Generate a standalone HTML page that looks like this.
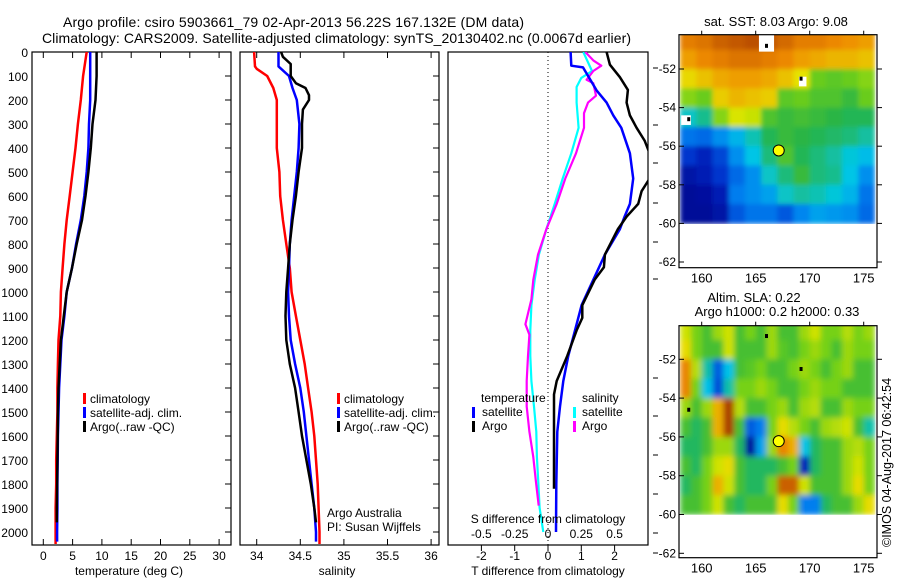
<!DOCTYPE html>
<html><head><meta charset="utf-8"><style>
html,body{margin:0;padding:0;background:#fff;}
svg{display:block;font-family:"Liberation Sans",Arial,sans-serif;}
</style></head><body>
<svg id="fig" width="900" height="580" viewBox="0 0 900 580" xmlns="http://www.w3.org/2000/svg">
<defs>
<clipPath id="c1"><rect x="32" y="52" width="199" height="493"/></clipPath>
<clipPath id="c2"><rect x="240" y="52" width="199" height="493"/></clipPath>
<clipPath id="c3"><rect x="448" y="52" width="200" height="493"/></clipPath>
<clipPath id="cm1"><rect x="679" y="34.7" width="198" height="189.6"/></clipPath>
<clipPath id="cm2"><rect x="679" y="325.7" width="198" height="189"/></clipPath>
<filter id="blur1" x="0" y="0" width="1" height="1"><feGaussianBlur stdDeviation="2.5" edgeMode="duplicate"/></filter>
<filter id="blur2" x="0" y="0" width="1" height="1"><feGaussianBlur stdDeviation="3" edgeMode="duplicate"/></filter>
</defs>
<text x="63" y="27" font-size="14" textLength="461">Argo profile: csiro 5903661_79 02-Apr-2013 56.22S 167.132E (DM data)</text>
<text x="42" y="43" font-size="14" textLength="589">Climatology: CARS2009. Satellite-adjusted climatology: synTS_20130402.nc (0.0067d earlier)</text>
<g id="layer"></g>
</svg>
<script>
// ---------- data ----------
const depthTicks=[0,100,200,300,400,500,600,700,800,900,1000,1100,1200,1300,1400,1500,1600,1700,1800,1900,2000];
const tempTicks=[0,5,10,15,20,25,30];
const salTicks=[34,34.5,35,35.5,36];
const salTickLabels=["34","34.5","35","35.5","36"];
const tdiffTicks=[-2,-1,0,1,2];
const sdiffTicks=[-0.5,-0.25,0,0.25,0.5];
const sdiffTickLabels=["-0.5","-0.25","0","0.25","0.5"];

const tempClimDepth=[0,100,200,300,400,500,600,700,800,900,1000,1100,1200,1300,1400,1500,1600,1700,1800,1900,2000,2050];
const tempClim=[7.4,6.8,6.4,5.9,5.5,5.0,4.5,4.0,3.6,3.3,3.0,2.9,2.6,2.5,2.4,2.4,2.3,2.2,2.2,2.1,2.1,2.1];
const tempSatDepth=[0,100,200,300,400,500,600,700,800,900,1000,1100,1200,1300,1400,1500,1600,1700,1800,1900,2000,2040];
const tempSat=[8.0,8.0,8.0,7.8,7.7,7.4,7.0,6.4,5.6,4.9,4.0,3.6,3.1,2.9,2.7,2.6,2.5,2.45,2.4,2.4,2.35,2.35];
const tempArgoDepth=[0,100,200,300,400,500,600,700,800,900,1000,1100,1200,1300,1400,1500,1600,1700,1800,1900,1960];
const tempArgo=[9.1,9.1,8.9,8.4,8.1,7.7,7.2,6.6,5.7,4.9,4.0,3.5,3.0,2.8,2.6,2.5,2.45,2.4,2.35,2.3,2.3];

const salClimDepth=[0,60,70,100,150,200,300,400,500,600,700,800,900,1000,1100,1200,1300,1400,1500,1600,1700,1800,1900,2000,2050];
const salClim=[33.97,33.98,34.0,34.12,34.19,34.23,34.23,34.23,34.26,34.27,34.3,34.34,34.38,34.40,34.45,34.5,34.55,34.59,34.63,34.66,34.68,34.7,34.71,34.72,34.72];
const salSatDepth=[0,60,100,150,200,300,400,500,600,700,800,900,1000,1100,1200,1300,1400,1500,1600,1700,1800,1900,2000,2040];
const salSat=[34.25,34.25,34.37,34.41,34.46,34.49,34.48,34.46,34.43,34.4,34.38,34.37,34.36,34.37,34.39,34.44,34.5,34.54,34.57,34.6,34.63,34.66,34.68,34.68];
const salArgoDepth=[0,20,50,100,130,150,180,200,240,300,400,500,600,700,800,900,1000,1100,1200,1300,1400,1500,1600,1700,1800,1900,1960];
const salArgo=[34.28,34.3,34.39,34.39,34.45,34.56,34.6,34.6,34.53,34.52,34.52,34.48,34.45,34.41,34.38,34.36,34.34,34.33,34.34,34.38,34.44,34.48,34.52,34.57,34.62,34.66,34.68];

const tdSatDepth=[0,57,64,160,211,264,316,422,527,633,686,738,844,949,1055,1160,1266,1371,1477,1582,1800,2000];
const tdSat=[0.68,0.7,1.05,1.46,1.76,1.96,2.2,2.46,2.56,2.46,2.3,2.16,1.71,1.36,1.01,0.81,0.61,0.46,0.36,0.28,0.25,0.24];
const tdArgoDepth=[0,53,105,158,211,264,316,369,422,527,580,633,686,738,844,897,949,1055,1108,1160,1266,1371,1427,1820];
const tdArgo=[1.76,1.86,2.16,2.4,2.36,2.46,2.66,2.9,3.05,3.05,2.81,2.71,2.36,2.1,1.71,1.68,1.4,1.03,1.03,0.86,0.58,0.26,0.18,0.18];
const sdSatDepth=[0,79,108,146,211,316,422,527,633,738,844,949,1055,1160,1266,1371,1477,1582,1688,1793,1899,2000];
const sdSat=[0.265,0.33,0.25,0.215,0.215,0.23,0.175,0.11,0.05,-0.012,-0.068,-0.1,-0.125,-0.133,-0.133,-0.125,-0.105,-0.088,-0.083,-0.073,-0.063,-0.035];
const sdArgoDepth=[0,35,57,79,116,130,182,211,255,316,422,527,633,738,844,949,1031,1134,1178,1266,1371,1477,1582,1688,1793,1890];
const sdArgo=[0.28,0.34,0.40,0.34,0.29,0.34,0.36,0.30,0.27,0.27,0.21,0.13,0.065,-0.012,-0.075,-0.11,-0.125,-0.17,-0.14,-0.15,-0.16,-0.16,-0.14,-0.11,-0.09,-0.07];

const lonTicks=[160,165,170,175];
const latTicks=[52,54,56,58,60,62];
const sstLons=[158,159.5,161,162.5,164,165.5,167,168.5,170,171.5,173,174.5];
const sstLats=[50,51,52,53,54,55,56,57,58,59];
const sst=[
[9.3,9.4,9.6,9.7,9.8,9.7,9.5,9.3,9.3,9.2,9.1,9.0],
[9.0,9.2,9.3,9.4,9.4,9.3,9.2,9.0,8.9,8.8,8.8,8.7],
[8.5,8.7,8.9,9.0,9.0,8.9,8.7,8.4,7.6,7.5,7.6,7.8],
[7.8,7.6,8.6,8.8,8.7,8.6,7.5,7.6,7.4,7.4,7.2,7.6],
[6.4,6.7,7.8,8.3,8.2,7.4,7.2,7.3,7.2,7.1,7.0,7.0],
[5.3,5.2,5.6,6.0,6.5,7.0,7.2,7.1,7.0,6.9,6.8,6.6],
[4.6,4.3,4.8,5.6,6.2,6.8,7.4,7.0,6.8,6.6,6.3,6.1],
[4.0,4.2,4.6,5.2,5.6,6.4,6.8,7.2,6.8,6.7,6.2,5.6],
[3.8,3.9,4.2,5.4,5.6,5.8,6.4,6.6,6.5,6.3,6.0,5.3],
[3.8,3.8,4.0,5.0,5.3,5.3,5.0,5.5,5.8,5.7,5.6,5.2]];
const slaLons=[158,159,160,161,162,163,164,165,166,167,168,169,170,171,172,173,174,175];
const slaLats=[50,51,52,53,54,55,56,57,58,59];
const sla=[
[0.12,0.05,0,0.08,0.12,0,0.05,0,0.08,0,0,0.08,0.12,0.05,0.05,0.1,0.05,0.08],
[0.15,0.05,0,0,0.12,0,0,0,0.08,0.02,0,0.05,0.08,0.05,0,0.08,0.05,0.05],
[0.25,0.1,-0.1,-0.3,-0.15,0,0.02,0.05,0,0,0.05,0.08,0.05,0,0.05,0.08,0,0],
[0.25,0.05,-0.15,-0.32,-0.1,0.05,0.05,0.08,0.05,0,0,0.05,0.08,0.05,0.05,0,0,0],
[0.08,0,0.08,0.2,0.38,0.1,0,0,0.05,0.08,0,0.08,0.1,0,0,0.08,0.05,0.05],
[0,-0.05,0,0.2,0.4,0,-0.3,-0.25,0.05,0.15,0.1,0.05,0,0.08,0.1,0.12,0,-0.1],
[-0.05,-0.05,0,0.08,0.08,-0.05,-0.45,-0.2,0.08,0.25,0.2,-0.15,-0.05,0,0,0.08,0.1,0.05],
[0,-0.05,0.05,0.12,0.15,0,-0.05,-0.05,-0.05,0,0.05,-0.4,-0.05,0,0,0.08,0.12,0.05],
[-0.05,0,0.05,0.2,0.12,0,-0.05,-0.05,0.05,0.3,0.3,0.12,0,0,0,0.08,0.15,0.05],
[0,0,0.05,0.12,0,-0.05,0,0,0,0.15,0.05,-0.25,-0.25,-0.05,0,0,0.08,0.15]];
const floatLon=167.132;
const floatLat=56.22;

// ---------- helpers ----------
const NS='http://www.w3.org/2000/svg';
const layer=document.getElementById('layer');
function mk(tag,attrs,parent){const e=document.createElementNS(NS,tag);for(const k in attrs)e.setAttribute(k,attrs[k]);(parent||layer).appendChild(e);return e;}
const yD=d=>52+d*0.24;
const xT=t=>43.3+t*5.86;
const xS=s=>256.7+(s-34)*87.2;
const xTd=t=>548+t*33.3;
const xSd=s=>548+s*4*33.3;
const lonX=l=>701.7+(l-160)*10.8;
const latY1=l=>69+(l-52)*19.3;
const latY2=l=>359.3+(l-52)*19.4;

function frame(x,w,name){
  const r=mk('rect',{x:x,y:52,width:w,height:493,fill:'none',stroke:'#000','stroke-width':1.2});
  
  
  depthTicks.forEach(d=>{
    const t=mk('line',{x1:x+w-6,x2:x+w,y1:yD(d),y2:yD(d),stroke:'#000','stroke-width':1});
    
    
  });
}
function line(xs,ds,fx,color,clip,name,sw){
  const pts=xs.map((v,i)=>fx(v).toFixed(1)+','+yD(ds[i]).toFixed(1)).join(' ');
  const p=mk('polyline',{points:pts,fill:'none',stroke:color,'stroke-width':sw||2.5,'clip-path':'url(#'+clip+')','stroke-linejoin':'round'});
  
  
}
function text(x,y,s,size,anchor,name){
  const t=mk('text',{x:x,y:y,'font-size':size,'text-anchor':anchor||'start'});
  t.textContent=s;
  
  
  return t;
}
function bar(x,y,color,name){
  const b=mk('rect',{x:x,y:y,width:3,height:11,fill:color});
  
  
}

// ---------- panel 1: temperature ----------
frame(32,199,'temperature-panel');
depthTicks.forEach(d=>{text(28,yD(d)+5,String(d),12,'end','depth-tick-label');});
tempTicks.forEach(t=>{
  const a=mk('line',{x1:xT(t),x2:xT(t),y1:545,y2:539,stroke:'#000'});
  
  
  const b=mk('line',{x1:xT(t),x2:xT(t),y1:52,y2:58,stroke:'#000'});
  
  
  text(xT(t),560,String(t),12,'middle','temp-tick-label');
});
text(129,575,'temperature (deg C)',12,'middle','temperature-axis-title');
line(tempClim,tempClimDepth,xT,'#ff0000','c1','temp-climatology-line');
line(tempSat,tempSatDepth,xT,'#0000ff','c1','temp-satellite-line');
line(tempArgo,tempArgoDepth,xT,'#000000','c1','temp-argo-line');
bar(83,393,'#ff0000','legend-climatology-marker');text(90,403,'climatology',12,'start','legend-climatology');
bar(83,407,'#0000ff','legend-satellite-marker');text(90,417,'satellite-adj. clim.',12,'start','legend-satellite-adj');
bar(83,421,'#000000','legend-argo-marker');text(90,431,'Argo(..raw -QC)',12,'start','legend-argo');

// ---------- panel 2: salinity ----------
frame(240,199,'salinity-panel');
salTicks.forEach((s,i)=>{
  const a=mk('line',{x1:xS(s),x2:xS(s),y1:545,y2:539,stroke:'#000'});
  
  
  const b=mk('line',{x1:xS(s),x2:xS(s),y1:52,y2:58,stroke:'#000'});
  
  
  text(xS(s),560,salTickLabels[i],12,'middle','sal-tick-label');
});
text(337,575,'salinity',12,'middle','salinity-axis-title');
line(salClim,salClimDepth,xS,'#ff0000','c2','sal-climatology-line');
line(salSat,salSatDepth,xS,'#0000ff','c2','sal-satellite-line');
line(salArgo,salArgoDepth,xS,'#000000','c2','sal-argo-line');
bar(337,393,'#ff0000','legend2-climatology-marker');text(344,403,'climatology',12,'start','legend2-climatology');
bar(337,407,'#0000ff','legend2-satellite-marker');text(344,417,'satellite-adj. clim.',12,'start','legend2-satellite-adj');
bar(337,421,'#000000','legend2-argo-marker');text(344,431,'Argo(..raw -QC)',12,'start','legend2-argo');
text(327,517,'Argo Australia',12,'start','credit-argo-australia');
text(327,531,'PI: Susan Wijffels',12,'start','credit-pi');

// ---------- panel 3: differences ----------
const f3=mk('rect',{x:448,y:52,width:200,height:493,fill:'none',stroke:'#000','stroke-width':1.2});


[68,125,163,203,242,279,378,416,455,494,533,553].forEach(y=>{
  const t=mk('line',{x1:653,x2:658,y1:y,y2:y,stroke:'#000'});
  
  
});
const zl=mk('line',{x1:548,x2:548,y1:52,y2:545,stroke:'#000','stroke-dasharray':'1,3'});


tdiffTicks.forEach(t=>{
  const a=mk('line',{x1:xTd(t),x2:xTd(t),y1:545,y2:551,stroke:'#000'});
  
  
  text(xTd(t),560,String(t),12,'middle','tdiff-tick-label');
});
text(548,575,'T difference from climatology',12,'middle','tdiff-axis-title');
line(sdSat,sdSatDepth,xSd,'#00ffff','c3','sdiff-satellite-line',2.2);
line(sdArgo,sdArgoDepth,xSd,'#ff00ff','c3','sdiff-argo-line',2.2);
line(tdSat,tdSatDepth,xTd,'#0000ff','c3','tdiff-satellite-line');
line(tdArgo,tdArgoDepth,xTd,'#000000','c3','tdiff-argo-line');
sdiffTicks.forEach((s,i)=>{text(xSd(s),538,sdiffTickLabels[i],12,'middle','sdiff-tick-label');});
text(548,523,'S difference from climatology',12,'middle','sdiff-axis-title');
text(481,402,'temperature',12,'start','legend3-temperature-heading');
bar(472,407,'#0000ff','legend3-temp-satellite-marker');text(482,416,'satellite',12,'start','legend3-temp-satellite');
bar(472,421,'#000000','legend3-temp-argo-marker');text(482,430,'Argo',12,'start','legend3-temp-argo');
text(582,402,'salinity',12,'start','legend3-salinity-heading');
bar(573,407,'#00ffff','legend3-sal-satellite-marker');text(582,416,'satellite',12,'start','legend3-sal-satellite');
bar(573,421,'#ff00ff','legend3-sal-argo-marker');text(582,430,'Argo',12,'start','legend3-sal-argo');

// ---------- maps ----------
const stops=[[0,0,0,130],[0.15,0,40,200],[0.3,0,130,240],[0.42,0,200,230],[0.55,40,180,70],[0.65,120,210,20],[0.75,230,230,0],[0.87,240,140,0],[1,170,60,0]];
function cmap(v){
  v=Math.max(0,Math.min(1,v));
  for(let i=1;i<stops.length;i++){
    if(v<=stops[i][0]){const a=stops[i-1],b=stops[i];const f=(v-a[0])/(b[0]-a[0]);
      return 'rgb('+[1,2,3].map(k=>Math.round(a[k]+(b[k]-a[k])*f)).join(',')+')';}
  }
  return 'rgb(170,60,0)';
}
function drawMap(grid,lons,lats,dlon,latY,clip,vmin,vmax,name,filt){
  const outer=mk('g',{'clip-path':'url(#'+clip+')'});
  
  
  const g=mk('g',{filter:'url(#'+filt+')'},outer);
  
  
  grid.forEach((row,r)=>{row.forEach((v,c)=>{
    const x0=lonX(lons[c]),x1=lonX(lons[c]+dlon),y0=latY(lats[r]),y1=latY(lats[r]+1);
    const cell=mk('rect',{x:x0.toFixed(1),y:y0.toFixed(1),width:(x1-x0+0.6).toFixed(1),height:(y1-y0+0.6).toFixed(1),fill:cmap((v-vmin)/(vmax-vmin))},g);
    
    
  });});
  return outer;
}
function mapAxes(top,h,latY,name){
  const r=mk('rect',{x:679,y:top,width:198,height:h,fill:'none',stroke:'#000','stroke-width':1.2});
  
  
  latTicks.forEach(l=>{
    const y=latY(l);
    const a=mk('line',{x1:679,x2:684,y1:y,y2:y,stroke:'#000'});
    
    
    const b=mk('line',{x1:877,x2:882,y1:y,y2:y,stroke:'#000'});
    
    
    text(676,y+4,'-'+l,12,'end','lat-tick-label');
  });
  lonTicks.forEach(l=>{
    const x=lonX(l);
    const a=mk('line',{x1:x,x2:x,y1:top-4,y2:top,stroke:'#000'});
    
    
    text(x,top+h+15,String(l),13,'middle','lon-tick-label');
  });
  const c=mk('circle',{cx:lonX(floatLon),cy:latY(floatLat),r:5.5,fill:'#ffff00',stroke:'#000','stroke-width':1});
  
  
}
const m1=drawMap(sst,sstLons,sstLats,1.5,latY1,'cm1',3.5,10,'sst-heatmap','blur1');
[[165.3,50.2,1.4,0.9],[169,52.4,0.7,0.5],[158.1,54.4,0.9,0.5]].forEach(p=>{
  const w=mk('rect',{x:lonX(p[0]),y:latY1(p[1]),width:p[2]*10.8,height:p[3]*19.3,fill:'#fff'},m1);
  
  
});
drawMap(sla,slaLons,slaLats,1,latY2,'cm2',-0.5,0.35,'sla-heatmap','blur2');
[[166,50.8],[169.2,52.5],[158.8,54.6]].forEach(p=>{
  [latY1,latY2].forEach(fy=>{
    const d=mk('rect',{x:lonX(p[0])-1.5,y:fy(p[1])-2,width:3,height:4,fill:'#000'});
    
    
  });
});
mapAxes(34.7,233,latY1,'sst-map-axes');
mapAxes(325.7,232,latY2,'sla-map-axes');
text(776,26,'sat. SST: 8.03 Argo: 9.08',13,'middle','sst-map-title');
text(754,302,'Altim. SLA: 0.22',13,'middle','sla-map-title-1');
text(777,316,'Argo h1000: 0.2 h2000: 0.33',13,'middle','sla-map-title-2');
const cr=text(0,0,'©IMOS 04-Aug-2017 06:42:54',12.5,'start','imos-credit');
cr.setAttribute('transform','translate(891,547) rotate(-90)');
</script>
</body></html>
